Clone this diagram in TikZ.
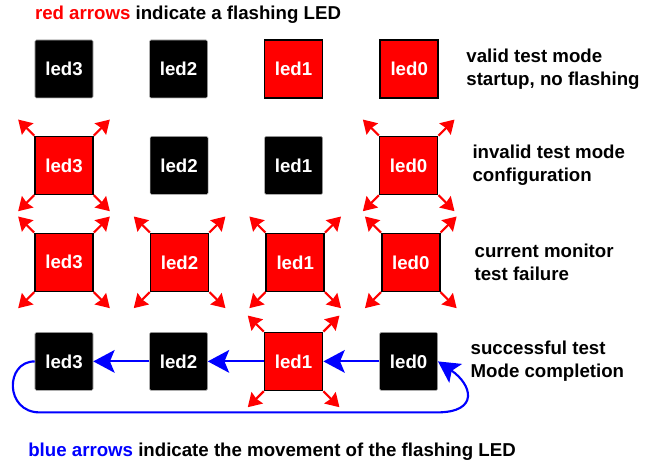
\documentclass[tikz,border=0pt]{standalone}
\usepackage{fontspec}
\setmainfont{Liberation Sans}
\usetikzlibrary{arrows.meta, positioning, calc}

\begin{document}
\begin{tikzpicture}[font=\fontsize{14}{17.25}\selectfont\bfseries,
  ledoff/.style={draw=gray!60, fill=black, text=white, rounded corners=1pt, minimum size=43.5pt, inner sep=0pt},
  ledon/.style={draw=black, line width=1.2pt, fill=red, text=white, minimum size=43.5pt, inner sep=0pt},
  blink/.style={red, line width=1.6pt, -{Stealth[length=10pt,width=12pt,inset=1pt]}},
  move/.style={blue, line width=1.6pt, -{Stealth[length=16pt,width=17pt,inset=3.5pt]}},
  node distance=28pt and 42pt]

\useasboundingbox (-48pt,-295.5pt) rectangle (439.5pt,51.75pt);

% Row 1: valid test mode
\node (v3) [ledoff] at (0,0) {led3};
\node (v2) [ledoff, right=of v3] {led2};
\node (v1) [ledon, right=of v2] {led1};
\node (v0) [ledon, right=of v1] {led0};

% Row 2: invalid test mode
\node (i3) [ledon, below=of v3] {led3};
\node (i2) [ledoff, right=of i3] {led2};
\node (i1) [ledoff, right=of i2] {led1};
\node (i0) [ledon, right=of i1] {led0};

% Row 3: current monitor failure
\node (c3) [ledon, below=of i3] {led3};
\node (c2) [ledon, right=of c3] {led2};
\node (c1) [ledon, right=of c2] {led1};
\node (c0) [ledon, right=of c1] {led0};

% Row 4: successful test
\node (s3) [ledoff, below=30pt of c3] {led3};
\node (s2) [ledoff, right=of s3] {led2};
\node (s1) [ledon, right=of s2] {led1};
\node (s0) [ledoff, right=of s1] {led0};

% Flashing arrows
\foreach \n in {i3,i0,c3,c2,c1,c0,s1} {
  \draw[blink] (\n.north west) -- ++(135:17pt);
  \draw[blink] (\n.north east) -- ++(45:17pt);
  \draw[blink] (\n.south west) -- ++(225:17pt);
  \draw[blink] (\n.south east) -- ++(315:17pt);
}

% Movement of the flashing LED
\draw[move] (s0) -- (s1);
\draw[move] (s1) -- (s2);
\draw[move] (s2) -- (s3);
\draw[move] (s3.west) .. controls +(-22.5pt,0) and +(-26.25pt,0) .. ($(s3.west)+(3.75pt,-38.25pt)$)
  -- ($(s0.east)+(-0.75pt,-38.25pt)$) .. controls +(32.25pt,0) and +(25.5pt,-17.25pt) .. (s0.east);

% Row labels
\node (vtxt) [right=17pt of v0, align=left] {valid test mode\\startup, no flashing};
\node (itxt) [right=22pt of i0, align=left] {invalid test mode\\configuration};
\node (ctxt) [right=22pt of c0, align=left] {current monitor\\test failure};
\node (stxt) [right=21pt of s0, align=left] {successful test\\Mode completion};

% Legends
\node (title) [above right=12pt and 0pt of v3.north west, inner sep=0pt] {\textcolor{red}{red arrows} indicate a flashing LED};
\node (legend) [below right=39pt and -5pt of s3.south west, inner sep=0pt] {\textcolor{blue}{blue arrows} indicate the movement of the flashing LED};
\end{tikzpicture}
\end{document}
